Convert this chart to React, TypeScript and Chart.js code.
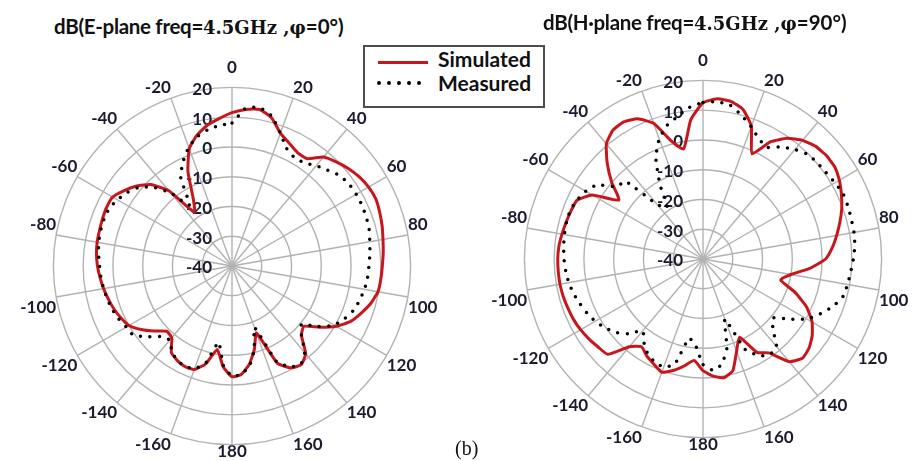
import React, { useEffect, useRef } from 'react';
import { Chart, registerables } from 'chart.js';

Chart.register(...registerables);

// Angle categories (degrees), clockwise from the top
const angleLabels = [
  0, 5, 10, 15, 20, 25, 30, 35, 40, 45, 50, 55, 60, 65, 70, 75, 80, 85, 90,
  95, 100, 105, 110, 115, 120, 125, 130, 135, 140, 145, 150, 155, 160, 165, 170, 175, 180,
  -175, -170, -165, -160, -155, -150, -145, -140, -135, -130, -125, -120, -115, -110, -105, -100,
  -95, -90, -85, -80, -75, -70, -65, -60, -55, -50, -45, -40, -35, -30, -25, -20, -15, -10, -5,
];

// Radial tick labels (dB)
const radialTicks = [20, 10, 0, -10, -20, -30, -40];

// E-plane (phi = 0)
const eSimulated = [
  11.5, 12.8, 13.4, 11.5, 7.5, 5.5, 4.0, 4.0, 7.8, 9.5, 11.0, 12.2, 13.0, 13.3, 12.8, 12.2, 11.5, 11.0, 10.5,
  10.2, 9.8, 8.3, 6.2, 4.0, 0.5, -4.1, -8.5, -7.0, -1.5, 0.5, -0.5, -4.0, -16.0, -11.0, -6.5, -3.5, -2.8,
  -6.0, -11.5, -6.0, -3.0, -2.7, -3.3, -4.5, -8.5, -9.0, -6.0, -2.8, 0.0, 1.2, 2.2, 3.0, 3.8,
  4.5, 5.2, 5.7, 6.0, 6.1, 6.3, 6.5, 6.3, 4.2, 1.8, -1.3, -7.0, -18.0, -14.0, -5.0, 2.0, 5.5, 8.0, 9.7,
];
const eMeasured = [
  8.0, 13.3, 14.0, 12.0, 7.5, 3.5, 2.0, 2.3, 4.0, 5.5, 7.3, 8.0, 8.2, 8.2, 8.0, 7.7, 7.0, 6.5, 6.0,
  5.7, 5.2, 4.4, 3.5, 1.8, -0.3, -4.5, -9.5, -7.0, -2.0, 0.3, -0.8, -4.5, -18.0, -11.0, -6.0, -3.5, -3.0,
  -6.5, -14.0, -6.5, -3.2, -2.8, -3.3, -4.8, -7.5, -6.5, -3.0, 0.5, 1.0, 2.0, 2.8, 3.3, 3.8,
  4.2, 4.5, 5.0, 5.5, 5.7, 5.8, 5.6, 4.5, 3.0, 1.0, -2.5, -8.0, -15.0, -5.5, -1.2, 2.5, 5.0, 6.5, 7.5,
];

// H-plane (phi = 90)
const hSimulated = [
  12.5, 14.0, 13.8, 12.0, 7.5, -1.0, 5.5, 9.5, 12.0, 13.5, 14.1, 14.0, 12.9, 11.3, 9.6, 7.6, 5.6, 3.6, 1.2,
  -4.0, -10.0, -13.0, -7.0, -1.5, 2.3, 4.8, 6.5, 7.2, 5.0, -1.5, -3.8, -11.0, -7.0, -1.2, 0.5, -0.5, -2.5,
  -5.8, -3.5, -1.2, 0.5, -1.0, -2.3, -4.0, -1.5, 5.3, 6.0, 6.8, 7.5, 8.0, 8.3, 8.6, 8.8,
  8.8, 8.8, 8.6, 8.1, 7.6, 7.2, 6.7, 3.0, -5.5, 0.0, 5.5, 10.5, 12.8, 13.2, 12.0, 8.5, 1.0, -2.5, 7.0,
];
const hMeasured = [
  12.6, 13.0, 12.5, 10.0, 7.3, 4.5, 3.3, 6.0, 8.0, 9.7, 10.2, 10.5, 11.2, 11.9, 11.8, 11.6, 11.5, 11.2, 10.5,
  9.8, 9.3, 8.7, 6.5, 3.5, 0.3, -4.8, -9.2, -6.8, -1.6, -0.8, -2.5, -6.5, -18.5, -9.0, -4.0, -2.5, -4.5,
  -11.0, -13.0, -3.5, -1.3, -1.8, -3.0, -5.5, -8.5, -4.5, -1.6, 0.2, 1.8, 3.0, 4.0, 5.0, 5.8,
  6.3, 6.7, 7.0, 7.3, 7.5, 7.5, 6.8, 5.5, 3.5, -2.3, -3.0, -16.0, -19.0, -11.0, -2.5, 3.0, 6.5, 8.7, 11.2,
];

const TEXT = '#1b1b30';
const GRID = '#b2b2b2';
const RED = '#c8161d';
const LABEL_FONT = 'Lato';

const tickLabelPlugin = {
  id: 'radialTickLabels',
  beforeDatasetsDraw(chart: any) {
    const scale = chart.scales.r;
    const ctx = chart.ctx as CanvasRenderingContext2D;
    ctx.save();
    ctx.font = `bold 17px ${LABEL_FONT}`;
    ctx.fillStyle = TEXT;
    ctx.textAlign = 'right';
    ctx.textBaseline = 'middle';
    for (const v of radialTicks) {
      const d = scale.getDistanceFromCenterForValue(v);
      ctx.fillText(String(v), scale.xCenter - 20, scale.yCenter - d + 2);
    }
    ctx.restore();
  },
};

function PolarChart(props: { simulated: number[]; measured: number[]; left: number; top: number }) {
  const ref = useRef<HTMLCanvasElement>(null);
  useEffect(() => {
    const chart = new Chart(ref.current as HTMLCanvasElement, {
      type: 'radar',
      data: {
        labels: angleLabels,
        datasets: [
          {
            label: 'Measured',
            data: props.measured,
            borderColor: '#000000',
            borderWidth: 3.5,
            borderDash: [0, 9.5],
            borderCapStyle: 'round',
            pointRadius: 0,
            fill: false,
            tension: 0.15,
          },
          {
            label: 'Simulated',
            data: props.simulated,
            borderColor: RED,
            borderWidth: 3,
            pointRadius: 0,
            fill: false,
            tension: 0.15,
          },
        ],
      } as any,
      options: {
        responsive: false,
        animation: false,
        plugins: { legend: { display: false }, tooltip: { enabled: false } },
        scales: {
          r: {
            min: -40,
            max: 20,
            ticks: { display: false, stepSize: 10 },
            grid: { circular: true, color: GRID, lineWidth: 1.4 },
            angleLines: {
              color: (c: any) => (angleLabels[c.index] % 20 === 0 ? GRID : 'rgba(0,0,0,0)'),
              lineWidth: (c: any) => (angleLabels[c.index] % 20 === 0 ? 1.4 : 0),
            },
            pointLabels: {
              font: { family: LABEL_FONT, size: 17, weight: 'bold' },
              color: TEXT,
              padding: (c: any) => {
                const a = angleLabels[c.index];
                if (a % 20 !== 0) return -40;
                if (a === 0) return 10;
                if (a === 180) return -3;
                return 0;
              },
              callback: (l: any) => (Number(l) % 20 === 0 ? String(l) : ''),
            },
          },
        },
      } as any,
      plugins: [tickLabelPlugin],
    });
    return () => chart.destroy();
  }, []);
  return (
    <canvas
      ref={ref}
      width={520}
      height={419}
      style={{ position: 'absolute', left: props.left, top: props.top }}
    />
  );
}

const sans = { fontFamily: LABEL_FONT, fontWeight: 700 };
const serif = { fontFamily: '"DejaVu Serif", serif', fontWeight: 700 };

function Title(props: { left: number; top: number; text: string; phi: string }) {
  return (
    <div
      style={{
        position: 'absolute',
        left: props.left,
        top: props.top,
        whiteSpace: 'nowrap',
        color: '#111',
        lineHeight: '26px',
      }}
    >
      <span style={{ ...sans, fontSize: 20.5, letterSpacing: '-0.3px' }}>{props.text}</span>
      <span style={{ ...serif, fontSize: 18 }}>{'4.5GHz ,φ'}</span>
      <span style={{ ...sans, fontSize: 20.5 }}>{`=${props.phi}°)`}</span>
    </div>
  );
}

export default function App() {
  return (
    <div
      style={{
        position: 'absolute',
        left: 0,
        top: 0,
        width: 917,
        height: 461,
        overflow: 'hidden',
        background: '#ffffff',
      }}
    >
      <PolarChart simulated={eSimulated} measured={eMeasured} left={-28} top={50} />
      <PolarChart simulated={hSimulated} measured={hMeasured} left={443} top={43} />
      <Title left={54} top={13} text="dB(E-plane freq=" phi="0" />
      <Title left={543} top={9} text="dB(H·plane freq=" phi="90" />
      <div
        style={{
          position: 'absolute',
          left: 363,
          top: 45,
          width: 182,
          height: 63,
          boxSizing: 'border-box',
          border: '2px solid #4d4d4d',
          background: '#fff',
        }}
      />
      <div style={{ position: 'absolute', left: 378, top: 61, width: 50, height: 3, background: RED }} />
      <svg style={{ position: 'absolute', left: 372, top: 77 }} width={62} height={12}>
        <line x1={7} y1={6} x2={57} y2={6} stroke="#000" strokeWidth={4} strokeDasharray="0 10" strokeLinecap="round" />
      </svg>
      <div style={{ position: 'absolute', left: 438, top: 46, ...sans, fontSize: 21, lineHeight: '26px', color: '#111' }}>
        Simulated
      </div>
      <div style={{ position: 'absolute', left: 438, top: 70, ...sans, fontSize: 21, lineHeight: '26px', color: '#111' }}>
        Measured
      </div>
      <div
        style={{
          position: 'absolute',
          left: 455,
          top: 436,
          fontFamily: '"Liberation Serif", serif',
          fontSize: 20,
          lineHeight: '24px',
          color: '#111',
        }}
      >
        (b)
      </div>
    </div>
  );
}
